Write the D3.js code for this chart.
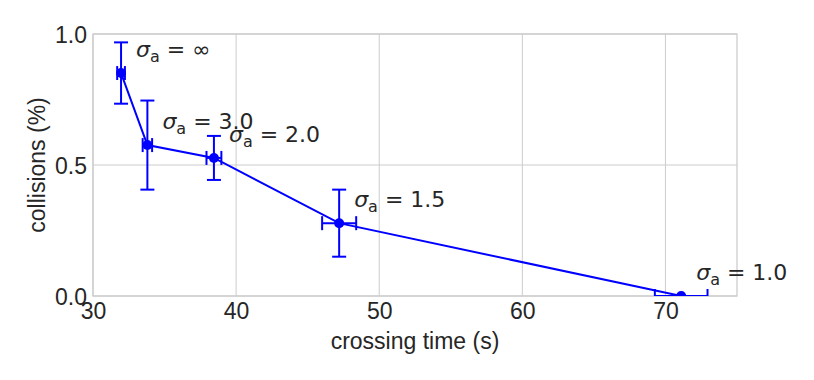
<!DOCTYPE html>
<html><head><meta charset="utf-8">
<script src="https://cdn.jsdelivr.net/npm/d3@7"></script>
<style>body{margin:0;background:#fff}</style>
</head><body>
<svg id="c" width="814" height="380"></svg>
<script>
const labels = ["∞", "3.0", "2.0", "1.5", "1.0"];
const crossing = [31.96, 33.8, 38.45, 47.2, 71.1];
const crossingErr = [0.27, 0.33, 0.52, 1.19, 1.84];
const collisions = [0.851, 0.576, 0.527, 0.278, 0.0];
const collisionsErr = [0.117, 0.17, 0.084, 0.128, 0.0];
const xTicks = [30, 40, 50, 60, 70];
const yTicks = [0.0, 0.5, 1.0];

const m = {l: 93, r: 77, t: 34, b: 84};
const W = 814, H = 380;
const svg = d3.select("#c");
const x = d3.scaleLinear().domain([30, 75]).range([m.l, W - m.r]);
const y = d3.scaleLinear().domain([0, 1]).range([H - m.b, m.t]);
const txt = "#262626", grid = "#cccccc", col = "#0000ff";
const font = "Liberation Sans, Arial, sans-serif";

// grid
svg.append("g").selectAll("line").data(xTicks).join("line")
  .attr("x1", d => x(d)).attr("x2", d => x(d)).attr("y1", m.t).attr("y2", H - m.b)
  .attr("stroke", grid).attr("stroke-width", 1);
svg.append("g").selectAll("line").data(yTicks).join("line")
  .attr("y1", d => y(d)).attr("y2", d => y(d)).attr("x1", m.l).attr("x2", W - m.r)
  .attr("stroke", grid).attr("stroke-width", 1);
svg.append("rect").attr("x", m.l).attr("y", m.t).attr("width", W - m.l - m.r).attr("height", H - m.t - m.b)
  .attr("fill", "none").attr("stroke", grid).attr("stroke-width", 1.3);

// axes tick labels
const xa = svg.append("g").attr("transform", `translate(0,${H - m.b})`)
  .call(d3.axisBottom(x).tickValues(xTicks).tickFormat(d3.format("d")).tickSize(0).tickPadding(7));
const ya = svg.append("g").attr("transform", `translate(${m.l},0)`)
  .call(d3.axisLeft(y).tickValues(yTicks).tickFormat(d3.format(".1f")).tickSize(0).tickPadding(6));
[xa, ya].forEach(a => {
  a.select(".domain").remove();
  a.selectAll("text").attr("fill", txt).style("font-family", font).style("font-size", "23px");
});
ya.selectAll("text").attr("dy", "0.35em");

svg.append("text").attr("x", (m.l + W - m.r) / 2).attr("y", 349).attr("text-anchor", "middle")
  .attr("fill", txt).style("font-family", font).style("font-size", "23px").text("crossing time (s)");
svg.append("text").attr("transform", `translate(45,${(m.t + H - m.b) / 2}) rotate(-90)`).attr("text-anchor", "middle")
  .attr("fill", txt).style("font-family", font).style("font-size", "23px").text("collisions (%)");

const data = crossing.map((c, i) => ({x: c, xe: crossingErr[i], y: collisions[i], ye: collisionsErr[i], l: labels[i]}));

svg.append("clipPath").attr("id", "clip").append("rect")
  .attr("x", m.l).attr("y", m.t - 10).attr("width", W - m.l - m.r).attr("height", H - m.t - m.b + 10);
const g = svg.append("g").attr("clip-path", "url(#clip)");

// line
g.append("path").datum(data).attr("d", d3.line().x(d => x(d.x)).y(d => y(d.y)))
  .attr("fill", "none").attr("stroke", col).attr("stroke-width", 2);

// error bars
const cap = 7;
data.forEach(d => {
  const px = x(d.x), py = y(d.y);
  if (d.ye > 0) {
    const y1 = y(d.y + d.ye), y2 = y(d.y - d.ye);
    g.append("line").attr("x1", px).attr("x2", px).attr("y1", y1).attr("y2", y2).attr("stroke", col).attr("stroke-width", 2);
    [y1, y2].forEach(yy => g.append("line").attr("x1", px - cap).attr("x2", px + cap).attr("y1", yy).attr("y2", yy).attr("stroke", col).attr("stroke-width", 2));
  }
  const x1 = x(d.x - d.xe), x2 = x(d.x + d.xe);
  g.append("line").attr("x1", x1).attr("x2", x2).attr("y1", py).attr("y2", py).attr("stroke", col).attr("stroke-width", 2);
  [x1, x2].forEach(xx => g.append("line").attr("x1", xx).attr("x2", xx).attr("y1", py - cap).attr("y2", py + cap).attr("stroke", col).attr("stroke-width", 2));
});
g.selectAll("circle").data(data).join("circle")
  .attr("cx", d => x(d.x)).attr("cy", d => y(d.y)).attr("r", 5).attr("fill", col);

// annotations
const ann = svg.append("g");
data.forEach(d => {
  const t = ann.append("text").attr("x", x(d.x) + 15).attr("y", y(d.y) - 16)
    .attr("fill", txt).style("font-family", "DejaVu Sans, sans-serif").style("font-size", "22px");
  t.append("tspan").style("font-style", "italic").text("σ");
  t.append("tspan").attr("dy", 5).style("font-size", "16px").text("a");
  t.append("tspan").attr("dy", -5).text(" = " + d.l);
});
</script>
</body></html>
